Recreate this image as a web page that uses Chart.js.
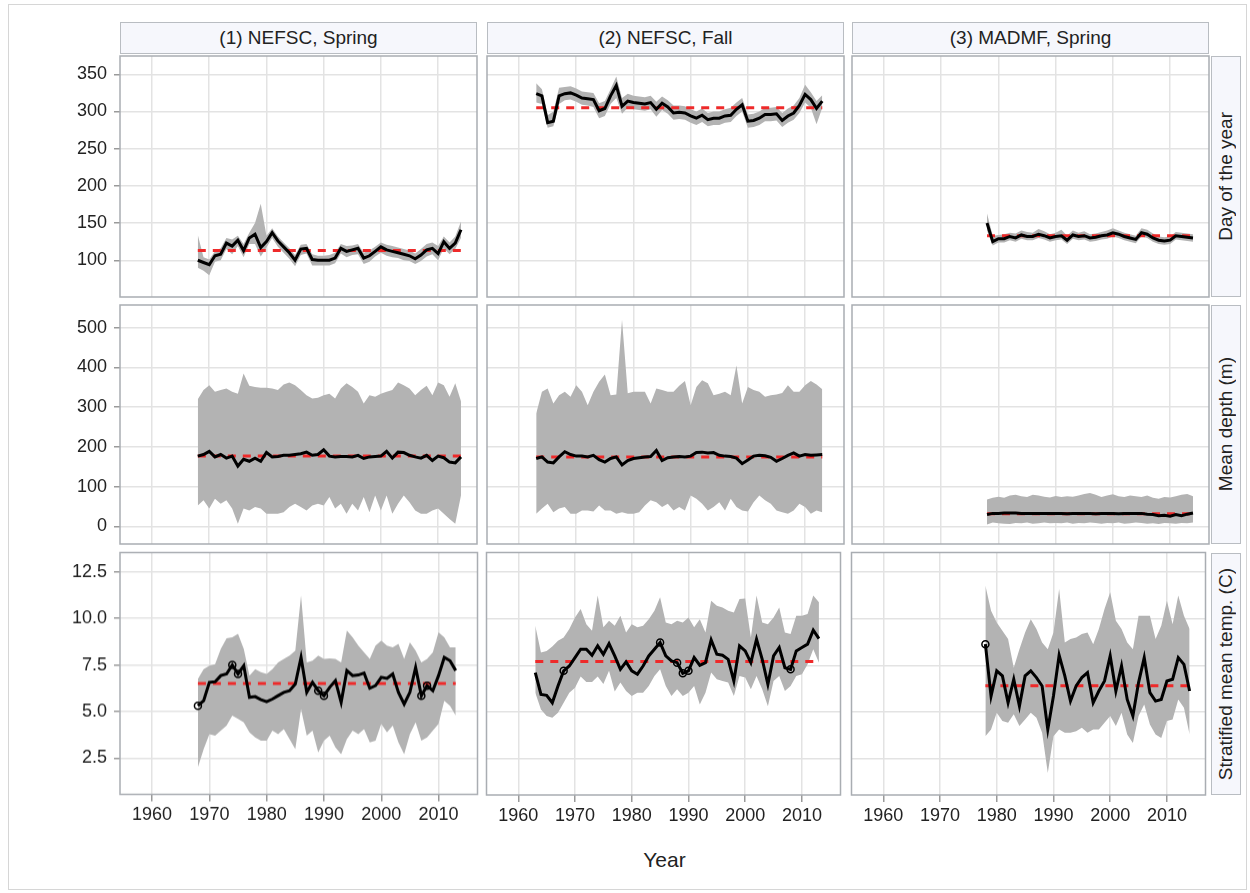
<!DOCTYPE html>
<html>
<head>
<meta charset="utf-8">
<script src="https://cdn.jsdelivr.net/npm/chart.js@4.4.1/dist/chart.umd.min.js"></script>
<style>
  body { margin: 0; background: #fff; font-family: 'Liberation Sans', Arial, sans-serif; }
  #wrap { position: relative; width: 1250px; height: 893px; overflow: hidden; }
  .outer { position: absolute; left: 8px; top: 4px; width: 1237px; height: 884px; border: 1px solid #d6d6d6; }
  .head { position: absolute; top: 22px; height: 30px; width: 355px; background: #f6f7fc; border: 1px solid #b9bdc2;
          font-size: 19px; color: #222; text-align: center; line-height: 30px; }
  .side { position: absolute; left: 1211px; width: 28px; background: #f6f7fc; border: 1px solid #b9bdc2;
          font-size: 19px; color: #222; display: flex; align-items: center; justify-content: center; }
  .side span { writing-mode: vertical-rl; transform: rotate(180deg); white-space: nowrap; }
  .xlab { position: absolute; left: 120px; width: 1089px; top: 848px; text-align: center; font-size: 21px; color: #222; }
  canvas { position: absolute; }
</style>
</head>
<body>
<div id="wrap"><div class="outer"></div></div>
<script>
// tick labels
const yearTicks = [1960, 1970, 1980, 1990, 2000, 2010];
const dayTicks = [100, 150, 200, 250, 300, 350];
const depthTicks = [0, 100, 200, 300, 400, 500];
const tempTicks = [2.5, 5.0, 7.5, 10.0, 12.5];

const surveys = ['(1) NEFSC, Spring', '(2) NEFSC, Fall', '(3) MADMF, Spring'];
const measures = ['Day of the year', 'Mean depth (m)', 'Stratified mean temp. (C)'];

// survey years
const yearsNefscSpring = [1968, 1969, 1970, 1971, 1972, 1973, 1974, 1975, 1976, 1977, 1978, 1979, 1980, 1981, 1982, 1983,
  1984, 1985, 1986, 1987, 1988, 1989, 1990, 1991, 1992, 1993, 1994, 1995, 1996, 1997, 1998, 1999, 2000, 2001, 2002, 2003,
  2004, 2005, 2006, 2007, 2008, 2009, 2010, 2011, 2012, 2013, 2014];
const yearsNefscFall = [1963, 1964, 1965, 1966, 1967, 1968, 1969, 1970, 1971, 1972, 1973, 1974, 1975, 1976, 1977, 1978,
  1979, 1980, 1981, 1982, 1983, 1984, 1985, 1986, 1987, 1988, 1989, 1990, 1991, 1992, 1993, 1994, 1995, 1996, 1997, 1998,
  1999, 2000, 2001, 2002, 2003, 2004, 2005, 2006, 2007, 2008, 2009, 2010, 2011, 2012, 2013];
const yearsMadmfSpring = [1978, 1979, 1980, 1981, 1982, 1983, 1984, 1985, 1986, 1987, 1988, 1989, 1990, 1991, 1992, 1993,
  1994, 1995, 1996, 1997, 1998, 1999, 2000, 2001, 2002, 2003, 2004, 2005, 2006, 2007, 2008, 2009, 2010, 2011, 2012, 2013, 2014];

// day of the year
const daySpringMean = [100, 97, 94, 106, 108, 123, 119, 127, 113, 130, 135, 117, 125, 137, 126, 118, 110, 100, 115, 116,
  101, 100, 100, 100, 103, 116, 112, 114, 116, 103, 106, 112, 118, 114, 112, 110, 108, 106, 102, 107, 114, 116, 109, 125, 116, 123, 141];
const daySpringHi = [134, 104, 101, 112, 116, 130, 128, 133, 122, 137, 150, 176, 133, 143, 132, 124, 116, 107, 121, 122,
  108, 106, 106, 107, 110, 122, 119, 120, 122, 110, 113, 118, 124, 121, 119, 117, 115, 113, 109, 115, 122, 124, 119, 132, 124, 132, 152];
const daySpringLo = [90, 86, 80, 98, 100, 115, 108, 119, 104, 122, 122, 105, 117, 130, 118, 110, 102, 92, 107, 109,
  93, 93, 93, 93, 96, 109, 104, 107, 108, 95, 98, 105, 110, 106, 104, 103, 100, 99, 95, 99, 105, 108, 100, 116, 108, 115, 130];
const daySpringRef = 113;

const dayFallMean = [324, 321, 285, 287, 321, 324, 325, 322, 318, 317, 316, 301, 304, 321, 335, 307, 314, 312, 311, 310,
  312, 303, 311, 306, 298, 299, 298, 294, 291, 295, 289, 291, 291, 294, 295, 303, 309, 287, 288, 291,
  296, 296, 297, 288, 294, 298, 308, 323, 316, 304, 314];
const dayFallHi = [338, 330, 295, 300, 332, 333, 334, 331, 327, 326, 325, 311, 314, 330, 347, 318, 324, 321, 320, 319,
  321, 313, 320, 315, 308, 308, 307, 303, 300, 304, 298, 300, 300, 303, 305, 312, 318, 296, 297, 300,
  305, 305, 306, 298, 304, 308, 318, 336, 326, 314, 322];
const dayFallLo = [312, 310, 278, 280, 310, 315, 316, 313, 309, 308, 306, 291, 294, 310, 318, 297, 305, 303, 302, 301,
  303, 293, 302, 297, 289, 290, 289, 285, 282, 286, 280, 282, 282, 285, 286, 294, 300, 278, 279, 282,
  287, 287, 288, 279, 285, 289, 298, 312, 305, 283, 305];
const dayFallRef = 305;

const dayMadmfMean = [150, 125, 129, 129, 132, 130, 134, 132, 132, 135, 133, 130, 132, 133, 127, 134, 132, 133, 130, 131,
  133, 134, 137, 135, 132, 130, 128, 137, 135, 130, 127, 126, 127, 133, 132, 131, 130];
const dayMadmfHi = [163, 133, 134, 135, 137, 136, 140, 138, 137, 142, 139, 135, 137, 141, 133, 140, 137, 139, 135, 136,
  138, 140, 143, 140, 137, 135, 133, 143, 141, 136, 132, 131, 132, 138, 137, 136, 135];
const dayMadmfLo = [140, 120, 124, 124, 127, 125, 129, 127, 127, 130, 128, 125, 127, 128, 122, 129, 127, 128, 125, 126,
  128, 129, 132, 130, 127, 125, 123, 132, 130, 125, 122, 121, 122, 128, 127, 126, 125];
const dayMadmfRef = 133;

// mean depth (m)
const depthSpringMean = [177, 181, 189, 175, 181, 172, 177, 152, 169, 164, 172, 164, 186, 175, 176, 179, 179, 181, 183, 187,
  179, 181, 193, 177, 175, 176, 176, 175, 179, 171, 175, 176, 177, 189, 172, 187, 186, 179, 175, 172, 179, 166, 177, 173, 162, 160, 175];
const depthSpringHi = [320, 343, 355, 339, 343, 347, 339, 334, 385, 354, 351, 349, 349, 347, 343, 357, 362, 355, 343, 330,
  322, 324, 330, 334, 322, 347, 360, 351, 339, 309, 330, 326, 334, 339, 343, 362, 355, 347, 330, 343, 354, 330, 362, 355, 326, 360, 315];
const depthSpringLo = [53, 66, 45, 70, 57, 66, 45, 7, 45, 40, 49, 45, 32, 32, 32, 36, 49, 57, 49, 40,
  53, 57, 53, 74, 45, 57, 32, 57, 40, 74, 36, 78, 40, 78, 32, 57, 78, 61, 40, 32, 32, 40, 45, 32, 19, 7, 78];
const depthSpringRef = 177;

const depthFallMean = [171, 175, 162, 160, 175, 188, 181, 177, 177, 175, 179, 168, 162, 171, 175, 155, 166, 171, 173, 175,
  176, 191, 166, 173, 175, 176, 175, 177, 186, 187, 185, 186, 179, 177, 176, 172, 158, 167, 177, 179,
  178, 174, 164, 171, 179, 185, 177, 181, 179, 180, 181];
const depthFallHi = [284, 339, 347, 309, 330, 339, 326, 355, 339, 305, 339, 364, 382, 330, 332, 520, 335, 339, 339, 339,
  309, 347, 343, 339, 339, 354, 366, 305, 351, 368, 360, 330, 334, 339, 330, 405, 309, 351, 343, 339,
  326, 330, 332, 336, 355, 339, 339, 355, 366, 357, 345];
const depthFallLo = [32, 45, 57, 36, 45, 49, 32, 32, 40, 40, 38, 53, 40, 40, 32, 36, 32, 32, 36, 53,
  66, 61, 49, 57, 40, 49, 40, 78, 70, 57, 40, 49, 61, 40, 70, 49, 40, 38, 61, 78,
  66, 57, 40, 36, 32, 40, 57, 49, 32, 40, 36];
const depthFallRef = 175;

const depthMadmfMean = [30, 33, 33, 34, 34, 34, 33, 33, 33, 33, 33, 33, 33, 33, 32, 33, 33, 33, 33, 32,
  33, 33, 33, 32, 33, 33, 33, 33, 31, 30, 27, 28, 26, 30, 27, 31, 34];
const depthMadmfHi = [68, 72, 75, 72, 78, 80, 76, 74, 80, 78, 75, 73, 77, 74, 76, 75, 78, 82, 84, 80,
  74, 78, 81, 76, 74, 78, 76, 74, 78, 72, 70, 74, 73, 76, 80, 82, 76];
const depthMadmfLo = [5, 10, 8, 7, 6, 9, 8, 10, 7, 8, 10, 8, 9, 8, 10, 7, 9, 8, 10, 9,
  7, 9, 8, 10, 7, 8, 10, 9, 7, 8, 6, 9, 8, 7, 9, 8, 10];
const depthMadmfRef = 32;

// stratified mean temperature (C)
const tempSpringMean = [5.31, 5.58, 6.57, 6.60, 6.93, 7.02, 7.50, 7.02, 7.46, 5.76, 5.80, 5.64, 5.53, 5.67, 5.85, 6.03,
  6.12, 6.48, 7.91, 6.03, 6.57, 6.12, 5.85, 6.30, 6.66, 5.49, 7.20, 6.93, 6.96, 7.07, 6.25, 6.39, 6.84, 6.78, 7.02, 6.03,
  5.40, 6.03, 7.37, 5.85, 6.39, 6.12, 6.93, 7.91, 7.73, 7.20];
const tempSpringHi = [6.75, 7.28, 7.46, 7.55, 8.36, 8.93, 8.99, 9.17, 8.36, 6.93, 7.28, 7.11, 7.02, 7.28, 7.64, 7.82,
  8.00, 8.27, 11.23, 7.64, 7.73, 8.00, 7.82, 7.86, 7.82, 7.64, 9.35, 8.99, 8.54, 8.18, 7.82, 8.54, 8.81, 8.54, 8.45, 8.63,
  7.82, 8.72, 8.27, 7.64, 7.82, 8.18, 9.26, 8.99, 8.45, 8.45];
const tempSpringLo = [2.00, 2.98, 3.79, 3.70, 3.97, 4.24, 4.78, 4.60, 4.42, 3.88, 3.61, 3.43, 3.43, 3.97, 3.79, 4.06,
  3.52, 2.98, 5.13, 3.70, 3.97, 2.80, 3.43, 3.70, 3.07, 2.71, 3.52, 3.97, 3.79, 4.06, 3.34, 3.43, 4.33, 3.88, 4.24, 3.34,
  2.71, 3.79, 4.42, 3.43, 3.61, 3.97, 4.33, 5.58, 5.31, 4.78];
const tempSpringRef = 6.5;
const tempSpringMarks = [1968, 1974, 1975, 1989, 1990, 2007, 2008];

const tempFallMean = [7.11, 5.94, 5.89, 5.49, 6.39, 7.20, 7.46, 7.91, 8.36, 8.36, 8.04, 8.54, 8.09, 8.66, 8.00, 7.28,
  7.68, 7.20, 7.02, 7.46, 8.00, 8.36, 8.72, 8.00, 7.73, 7.64, 7.07, 7.20, 7.91, 7.50, 7.64, 8.86, 8.09, 8.04, 7.82, 6.66,
  8.54, 8.27, 7.64, 8.90, 7.82, 6.48, 8.00, 8.45, 7.37, 7.28, 8.27, 8.45, 8.63, 9.38, 8.93];
const tempFallHi = [9.61, 8.18, 8.27, 8.50, 8.81, 8.99, 9.44, 10.06, 10.51, 9.70, 9.35, 11.23, 9.53, 9.88, 9.61, 10.15,
  9.26, 9.70, 9.53, 9.61, 9.97, 10.42, 11.14, 9.79, 9.70, 9.88, 9.79, 10.06, 9.53, 9.97, 9.26, 10.96, 10.69, 10.60, 10.42, 10.33,
  11.05, 11.08, 8.99, 11.23, 9.79, 9.70, 10.06, 10.60, 9.26, 9.17, 10.15, 10.15, 10.24, 11.23, 10.87];
const tempFallLo = [6.03, 5.13, 4.78, 4.69, 4.96, 5.49, 6.03, 6.30, 6.90, 6.60, 6.60, 6.90, 6.50, 7.20, 6.10, 6.57,
  6.12, 5.85, 6.03, 6.03, 6.39, 6.93, 7.28, 6.39, 5.85, 6.21, 5.85, 6.03, 6.39, 5.40, 6.03, 7.11, 6.75, 6.66, 6.57, 5.85,
  6.93, 6.84, 6.21, 6.93, 6.21, 5.31, 6.66, 6.93, 6.12, 6.39, 6.93, 7.02, 7.55, 8.36, 7.64];
const tempFallRef = 7.7;
const tempFallMarks = [1968, 1985, 1988, 1989, 1990, 2008];

const tempMadmfMean = [8.63, 5.85, 7.20, 6.93, 5.49, 6.75, 5.31, 6.93, 7.20, 6.84, 6.39, 4.06, 5.85, 8.04, 6.93, 5.58,
  6.39, 6.84, 7.11, 5.49, 6.12, 6.66, 8.00, 6.12, 7.46, 5.67, 4.78, 6.57, 7.91, 6.03, 5.58, 5.67, 6.66, 6.75, 7.91, 7.55, 6.12];
const tempMadmfHi = [11.77, 10.42, 9.79, 9.35, 8.90, 7.37, 8.36, 9.26, 9.97, 9.44, 8.72, 8.36, 9.26, 11.59, 8.72, 8.90,
  8.99, 9.17, 9.26, 8.63, 9.44, 10.51, 11.41, 9.88, 9.44, 8.72, 8.36, 10.15, 10.15, 10.15, 8.90, 9.61, 10.96, 9.70, 11.23, 10.15, 9.44];
const tempMadmfLo = [3.70, 4.06, 4.96, 4.51, 4.42, 4.87, 4.24, 4.60, 4.96, 4.69, 3.88, 1.73, 3.70, 4.06, 3.88, 3.88,
  3.97, 4.15, 3.88, 4.06, 4.06, 4.42, 4.78, 4.24, 4.96, 3.79, 3.34, 4.78, 5.40, 4.33, 3.79, 3.61, 4.51, 4.60, 5.67, 5.22, 3.79];
const tempMadmfRef = 6.4;
const tempMadmfMarks = [1978];

// layout of the 3x3 grid
const colLeft = [120, 487, 852];
const panelW = 357;
const rowTop = [56, 305, 553];
const rowH = [241, 239, 242];

const rowAxes = [
  { min: 50.6, max: 374.6, ticks: dayTicks, fmt: v => String(v) },
  { min: -44, max: 557, ticks: depthTicks, fmt: v => String(v) },
  { min: 0.55, max: 13.54, ticks: tempTicks, fmt: v => Number(v).toFixed(1) }
];

const panels = [
  { r: 0, c: 0, years: yearsNefscSpring, mean: daySpringMean, hi: daySpringHi, lo: daySpringLo, ref: daySpringRef, marks: [] },
  { r: 0, c: 1, years: yearsNefscFall, mean: dayFallMean, hi: dayFallHi, lo: dayFallLo, ref: dayFallRef, marks: [] },
  { r: 0, c: 2, years: yearsMadmfSpring, mean: dayMadmfMean, hi: dayMadmfHi, lo: dayMadmfLo, ref: dayMadmfRef, marks: [] },
  { r: 1, c: 0, years: yearsNefscSpring, mean: depthSpringMean, hi: depthSpringHi, lo: depthSpringLo, ref: depthSpringRef, marks: [] },
  { r: 1, c: 1, years: yearsNefscFall, mean: depthFallMean, hi: depthFallHi, lo: depthFallLo, ref: depthFallRef, marks: [] },
  { r: 1, c: 2, years: yearsMadmfSpring, mean: depthMadmfMean, hi: depthMadmfHi, lo: depthMadmfLo, ref: depthMadmfRef, marks: [] },
  { r: 2, c: 0, years: yearsNefscSpring, mean: tempSpringMean, hi: tempSpringHi, lo: tempSpringLo, ref: tempSpringRef, marks: tempSpringMarks },
  { r: 2, c: 1, years: yearsNefscFall, mean: tempFallMean, hi: tempFallHi, lo: tempFallLo, ref: tempFallRef, marks: tempFallMarks },
  { r: 2, c: 2, years: yearsMadmfSpring, mean: tempMadmfMean, hi: tempMadmfHi, lo: tempMadmfLo, ref: tempMadmfRef, marks: tempMadmfMarks }
];

Chart.defaults.font.family = "'Liberation Sans', Arial, sans-serif";
Chart.defaults.font.size = 18;
Chart.defaults.color = '#222';

// box around each plot area
const framePlugin = {
  id: 'frame',
  afterDraw(chart) {
    const { ctx, chartArea: a } = chart;
    ctx.save();
    ctx.strokeStyle = '#a9adb2';
    ctx.lineWidth = 1.5;
    ctx.strokeRect(a.left, a.top, a.right - a.left, a.bottom - a.top);
    ctx.restore();
  }
};

// fixed axis sizes, no extra room for overhanging labels
function fixSize(s, w, h) {
  if (w !== null) s.width = w;
  if (h !== null) s.height = h;
  s.paddingLeft = 0; s.paddingRight = 0; s.paddingTop = 0; s.paddingBottom = 0;
}

const wrap = document.getElementById('wrap');

surveys.forEach((s, c) => {
  const d = document.createElement('div');
  d.className = 'head';
  d.style.left = colLeft[c] + 'px';
  d.textContent = s;
  wrap.appendChild(d);
});
measures.forEach((m, r) => {
  const d = document.createElement('div');
  d.className = 'side';
  d.style.top = rowTop[r] + 'px';
  d.style.height = (rowH[r] - 2) + 'px';
  d.innerHTML = '<span></span>';
  d.firstChild.textContent = m;
  wrap.appendChild(d);
});
const xl = document.createElement('div');
xl.className = 'xlab';
xl.textContent = 'Year';
wrap.appendChild(xl);

function makePanel(p) {
  const L = colLeft[p.c], T = rowTop[p.r], H = rowH[p.r];
  const axisW = p.c === 0 ? L - 2 : 0;
  const axisH = p.r === 2 ? 48 : 0;
  let w = 2 + axisW + panelW + 2, h = 2 + H + axisH + 2;
  let cx = L - axisW - 2, cy = T - 2;
  const cv = document.createElement('canvas');
  cv.width = w; cv.height = h;
  const place = () => {
    cv.style.left = cx + 'px';
    cv.style.top = cy + 'px';
    cv.style.width = w + 'px';
    cv.style.height = h + 'px';
  };
  place();
  wrap.appendChild(cv);

  const pts = arr => arr.map((v, i) => ({ x: p.years[i], y: v }));
  const last = p.years[p.mean.length - 1];
  const ax = rowAxes[p.r];

  const chart = new Chart(cv.getContext('2d'), {
    type: 'line',
    data: {
      datasets: [
        { data: pts(p.mean), borderColor: '#000', borderWidth: 3, pointRadius: 0, order: 1 },
        { data: p.marks.map(yr => ({ x: yr, y: p.mean[p.years.indexOf(yr)] })), showLine: false,
          pointRadius: 3.5, pointBorderColor: '#000', pointBackgroundColor: 'rgba(0,0,0,0)', pointBorderWidth: 1.5, order: 0 },
        { data: [{ x: p.years[0], y: p.ref }, { x: last, y: p.ref }], borderColor: '#ee2a2a', borderWidth: 3,
          borderDash: [8, 7], pointRadius: 0, order: 2 },
        { data: pts(p.hi), borderWidth: 0, pointRadius: 0, backgroundColor: '#b3b3b3', fill: '+1', order: 3 },
        { data: pts(p.lo), borderWidth: 0, pointRadius: 0, order: 4 }
      ]
    },
    options: {
      responsive: false,
      animation: false,
      devicePixelRatio: 1,
      layout: { padding: 2 },
      plugins: { legend: { display: false }, tooltip: { enabled: false } },
      scales: {
        x: {
          type: 'linear', min: 1954.4, max: 2016.8,
          afterBuildTicks: s => { s.ticks = yearTicks.map(v => ({ value: v })); },
          afterFit: s => fixSize(s, null, axisH),
          border: { display: false },
          grid: { color: '#e3e3e3', lineWidth: 1.5, drawTicks: p.r === 2, tickLength: 7, tickColor: '#9a9a9a', tickWidth: 1.5 },
          ticks: { display: p.r === 2, padding: 3, maxRotation: 0, autoSkip: false, callback: v => String(v) }
        },
        y: {
          min: ax.min, max: ax.max,
          afterBuildTicks: s => { s.ticks = ax.ticks.map(v => ({ value: v })); },
          afterFit: s => fixSize(s, axisW, null),
          border: { display: false },
          grid: { color: '#e3e3e3', lineWidth: 1.5, drawTicks: p.c === 0, tickLength: 6, tickColor: '#9a9a9a', tickWidth: 1.5 },
          ticks: { display: p.c === 0, padding: 7, autoSkip: false, callback: ax.fmt }
        }
      }
    },
    plugins: [framePlugin]
  });

  // nudge the canvas so the plot area lands exactly on its cell
  for (let k = 0; k < 3; k++) {
    const a = chart.chartArea;
    const dl = Math.round(cx + a.left - L), dr = Math.round(L + panelW - (cx + a.right));
    const dt = Math.round(cy + a.top - T), db = Math.round(T + H - (cy + a.bottom));
    if (!dl && !dr && !dt && !db) break;
    cx -= dl; cy -= dt;
    w += dl + dr; h += dt + db;
    place();
    chart.resize(w, h);
  }
}

panels.forEach(makePanel);
</script>
</body>
</html>
